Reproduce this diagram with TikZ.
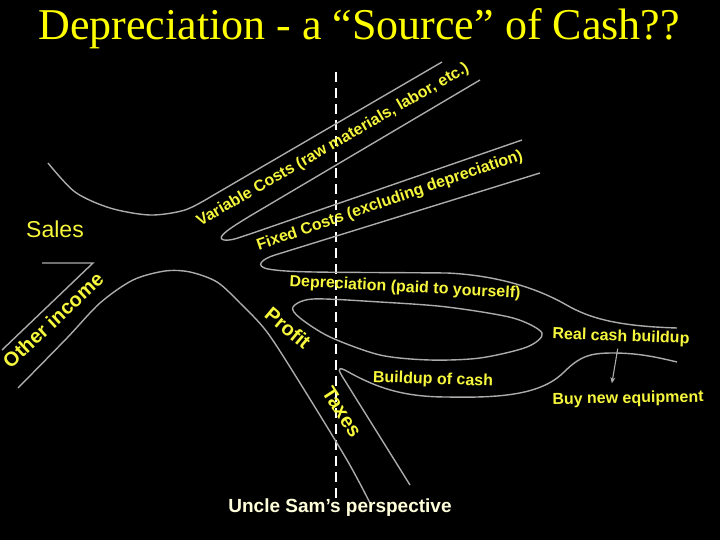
\documentclass[tikz,border=0pt]{standalone}
\usepackage{fontspec}
\setmainfont{Liberation Serif}
\setsansfont{Liberation Sans}
\usetikzlibrary{arrows.meta,calc}
\definecolor{SlideYellow}{HTML}{FFFF00}
\definecolor{LabelYellow}{HTML}{F6F63C}
\definecolor{SamCream}{HTML}{FFFFDC}
\definecolor{FlowGrey}{HTML}{ABABAB}

\begin{document}
\begin{tikzpicture}[x=1pt,y=-1pt,
    flow/.style={
      draw=FlowGrey,
      line width=1.4pt
    },
    tag/.style={
      text=LabelYellow,
      font=\sffamily\bfseries\fontsize{16}{18}\selectfont,
      inner sep=0pt
    },
    bigtag/.style={
      tag,
      font=\sffamily\bfseries\fontsize{20}{22}\selectfont
    },
    arrow/.style={
      -{Stealth[length=6pt,width=5pt]},
      line width=1.1pt,
      draw=FlowGrey
    }]

    % Slide background (720 x 540, y runs downwards)
    \fill[black] (0,0) rectangle (720,540);

    % Title
    \node[text=SlideYellow, font=\fontsize{44}{48}\selectfont, anchor=base] (title) at (359,40)
      {Depreciation - a “Source” of Cash??};

    % Uncle Sam's line of sight
    \draw[white, line width=1.6pt, dash pattern=on 10pt off 6pt] (336,72) -- (336,503);

    % Streams of money
    \draw[flow] plot[smooth] coordinates {(48,163) (75,192) (110,208) (150,215) (185,210) (212,196)}
      -- (442,62);
    \draw[flow] (480,80) -- (250,216) .. controls (232,227) and (214,238) .. (224,240)
      .. controls (232,241) and (240,237) .. (250,234) -- (522,140);
    \draw[flow] (540,173) -- (275,255) .. controls (262,259) and (254,266) .. (268,269)
      .. controls (290,273) and (330,272) .. (447,273)
      .. controls (490,275) and (530,285) .. (563,303)
      .. controls (585,316) and (610,326) .. (677,328);
    \draw[flow] plot[smooth cycle] coordinates {(293,307) (313,299) (380,302) (447,307) (513,318)
      (542,333) (527,347) (480,358) (430,360) (380,355) (330,337) (300,318)};
    \draw[flow] (410,485) -- (342,376) .. controls (336,366) and (340,367) .. (352,374)
      .. controls (375,386) and (400,397) .. (447,397)
      .. controls (500,398) and (540,395) .. (563,373)
      .. controls (580,356) and (590,353) .. (613,353)
      .. controls (640,353) and (660,358) .. (677,362);
    \draw[flow] plot[smooth] coordinates {(18,388) (67,338) (100,303) (133,280) (165,271) (190,272)
      (217,282) (240,303) (267,332) (300,383) (347,460) (370,503)};
    \draw[flow] (42,263) -- (93,263) -- (2,350);

    % Labels along the streams
    \node[text=LabelYellow, font=\sffamily\fontsize{23}{25}\selectfont, inner sep=0pt] (sales) at (55,229) {Sales};
    \node[tag, rotate=30] (varcost) at (333,145) {Variable Costs (raw materials, labor, etc.)};
    \node[tag, rotate=19] (fixcost) at (390,201) {Fixed Costs (excluding depreciation)};
    \node[tag, rotate=-3] (deprec) at (405,288) {Depreciation (paid to yourself)};
    \node[bigtag, rotate=43] (other) at (53,320) {Other income};
    \node[bigtag, rotate=-40] (profit) at (288,328) {Profit};
    \node[bigtag, rotate=-57] (taxes) at (342,412) {Taxes};
    \node[tag, rotate=-2] (buildup) at (433,380) {Buildup of cash};
    \node[tag, rotate=-2] (realcash) at (621,337) {Real cash buildup};
    \node[tag, rotate=1] (equip) at (628,399) {Buy new equipment};
    \node[bigtag, text=SamCream, font=\sffamily\bfseries\fontsize{19}{21}\selectfont] (uncle) at (340,508)
      {Uncle Sam’s perspective};

    \draw[arrow] ($(realcash.south)+(-3,4)$) -- ($(equip.north)+(-16,-8)$);
\end{tikzpicture}
\end{document}
